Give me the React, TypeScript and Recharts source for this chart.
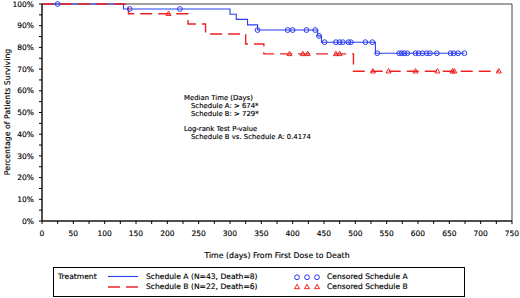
import React from "react";
import {
  ComposedChart,
  Line,
  Scatter,
  XAxis,
  YAxis,
  ReferenceArea,
} from "recharts";

if (typeof document !== "undefined") document.body.style.margin = "0";

// Kaplan-Meier steps (day, % surviving)
const stepsA = [
  { t: 0, s: 100 },
  { t: 130, s: 97.7 },
  { t: 300, s: 95.3 },
  { t: 310, s: 92.9 },
  { t: 328, s: 90.4 },
  { t: 344, s: 88.0 },
  { t: 440, s: 85.3 },
  { t: 446, s: 82.4 },
  { t: 532, s: 77.3 },
  { t: 674, s: 77.3 },
];

const stepsB = [
  { t: 0, s: 100 },
  { t: 138, s: 95.5 },
  { t: 233, s: 90.8 },
  { t: 261, s: 86.2 },
  { t: 325, s: 81.6 },
  { t: 354, s: 77.0 },
  { t: 497, s: 69.0 },
  { t: 729, s: 69.0 },
];

// censoring times (days)
const censorTimesA = [
  25, 140, 220, 344, 392, 400, 422, 436, 442, 451, 469, 475, 480, 489, 493,
  516, 527, 535, 570, 574, 578, 583, 596, 601, 607, 614, 619, 630, 652, 657,
  664, 674,
];
const censorTimesB = [202, 395, 416, 424, 469, 475, 528, 553, 596, 631, 655, 658, 729];

const xTicks = Array.from({ length: 31 }, (_, i) => i * 25);
const yTicks = Array.from({ length: 21 }, (_, i) => i * 5);

const BLUE = "#2a3cf0";
const RED = "#ee2222";
const FONT = "'DejaVu Sans', Verdana, sans-serif";

function survivalAt(steps: { t: number; s: number }[], t: number) {
  let s = steps[0].s;
  for (const p of steps) if (p.t <= t) s = p.s;
  return s;
}

const censorA = censorTimesA.map((t) => ({ t, s: survivalAt(stepsA, t) }));
const censorB = censorTimesB.map((t) => ({ t, s: survivalAt(stepsB, t) }));

const Circle = (props: any) => (
  <circle cx={props.cx} cy={props.cy} r={2.4} fill="none" stroke={BLUE} strokeWidth={1} />
);

const Tri = (props: any) => {
  const { cx, cy } = props;
  return (
    <path
      d={`M${cx},${cy - 2.7} L${cx + 2.5},${cy + 1.7} L${cx - 2.5},${cy + 1.7} Z`}
      fill="none"
      stroke={RED}
      strokeWidth={1}
    />
  );
};

const txt = { fontFamily: FONT, fontSize: 7.6, fill: "#000", stroke: "#000", strokeWidth: 0.15 } as const;
const note = { ...txt, fontSize: 6.9 };

export default function App() {
  return (
    <div style={{ position: "relative", width: 520, height: 298, background: "#fff" }}>
      <ComposedChart
        width={520}
        height={298}
        margin={{ top: 4, right: 8, left: 0, bottom: 47 }}
      >
        <XAxis
          type="number"
          dataKey="t"
          domain={[0, 750]}
          ticks={xTicks}
          interval={0}
          height={30}
          tickSize={3}
          tickMargin={7}
          tick={{ ...txt, fontSize: 7.5 }}
          tickFormatter={(v: number) => (v % 50 === 0 ? String(v) : "")}
          stroke="#000"
          label={{
            value: "Time (days) From First Dose to Death",
            position: "bottom",
            offset: 1,
            style: { ...txt, fontSize: 7.8 },
          }}
        />
        <YAxis
          type="number"
          dataKey="s"
          domain={[0, 100]}
          ticks={yTicks}
          interval={0}
          width={42}
          tickSize={3}
          tickMargin={5}
          tick={{ ...txt, fontSize: 7.5 }}
          tickFormatter={(v: number) => (v % 10 === 0 ? `${v}%` : "")}
          stroke="#000"
        />
        <ReferenceArea
          x1={0}
          x2={750}
          y1={0}
          y2={100}
          fill="none"
          stroke="#444"
          strokeWidth={1}
        />
        <Line
          data={stepsA}
          dataKey="s"
          type="stepAfter"
          stroke={BLUE}
          strokeWidth={1.1}
          dot={false}
          isAnimationActive={false}
        />
        <Line
          data={stepsB}
          dataKey="s"
          type="stepAfter"
          stroke={RED}
          strokeWidth={1.4}
          strokeDasharray="12 6"
          dot={false}
          isAnimationActive={false}
        />
        <Scatter data={censorA} dataKey="s" shape={Circle} isAnimationActive={false} />
        <Scatter data={censorB} dataKey="s" shape={Tri} isAnimationActive={false} />
      </ComposedChart>

      <svg
        width={520}
        height={298}
        style={{ position: "absolute", left: 0, top: 0, pointerEvents: "none" }}
      >
        <text
          {...txt}
          fontSize={7.8}
          x={7.5}
          y={112}
          textAnchor="middle"
          dominantBaseline="middle"
          transform="rotate(-90 7.5 112)"
        >
          Percentage of Patients Surviving
        </text>

        <text {...note} x={184} y={98.5} dominantBaseline="middle">Median Time (Days)</text>
        <text {...note} x={191} y={106.5} dominantBaseline="middle">Schedule A: &gt; 674*</text>
        <text {...note} x={191} y={114.5} dominantBaseline="middle">Schedule B: &gt; 729*</text>
        <text {...note} x={184} y={129} dominantBaseline="middle">Log-rank Test P-value</text>
        <text {...note} x={191} y={137} dominantBaseline="middle">
          Schedule B vs. Schedule A: 0.4174
        </text>

        <rect x={53.5} y={267.5} width={411} height={29} fill="none" stroke="#000" strokeWidth={1} />
        <text {...txt} x={58} y={277} dominantBaseline="middle">Treatment</text>
        <line x1={108} x2={138} y1={276.5} y2={276.5} stroke={BLUE} strokeWidth={1.1} />
        <text {...txt} x={146} y={277} dominantBaseline="middle">
          Schedule A (N=43, Death=8)
        </text>
        <line x1={108} x2={138} y1={287} y2={287} stroke={RED} strokeWidth={1.4} strokeDasharray="12 6" />
        <text {...txt} x={146} y={287} dominantBaseline="middle">
          Schedule B (N=22, Death=6)
        </text>
        {[297, 307, 317].map((x) => (
          <Circle key={"c" + x} cx={x} cy={277.3} />
        ))}
        {[297, 307, 317].map((x) => (
          <Tri key={"t" + x} cx={x} cy={287} />
        ))}
        <text {...txt} x={327} y={277} dominantBaseline="middle">Censored Schedule A</text>
        <text {...txt} x={327} y={287} dominantBaseline="middle">Censored Schedule B</text>
      </svg>
    </div>
  );
}
